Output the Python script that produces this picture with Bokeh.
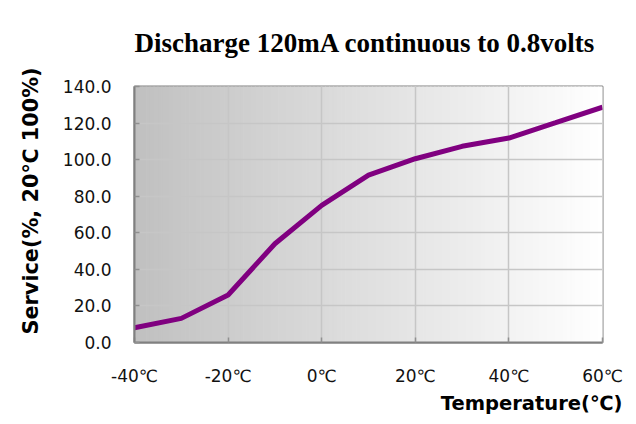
import numpy as np
from bokeh.plotting import figure
from bokeh.models import Range1d, FixedTicker, Title
from bokeh.embed import file_html
from bokeh.resources import INLINE

# ---- data ----
temps = [-40, -30, -20, -10, 0, 10, 20, 30, 40, 50, 60]
service = [8.1, 13.2, 26.0, 54.0, 75.0, 91.5, 100.5, 107.3, 111.8, 120.2, 128.7]

x_ticks = [-40, -20, 0, 20, 40, 60]
x_tick_labels = ["-40℃", "-20℃", "0℃", "20℃", "40℃", "60℃"]
y_ticks = [0, 20, 40, 60, 80, 100, 120, 140]
y_tick_labels = ["0.0", "20.0", "40.0", "60.0", "80.0", "100.0", "120.0", "140.0"]

title_text = "Discharge 120mA continuous to 0.8volts"
x_label = "Temperature(℃)"
y_label = "Service(%, 20℃ 100%)"

X0, X1, Y0, Y1 = -40, 60, 0, 140

p = figure(width=628, height=416, output_backend="svg", toolbar_location=None,
           x_range=Range1d(X0, X1), y_range=Range1d(Y0, Y1),
           min_border_left=133, min_border_right=26,
           min_border_top=86, min_border_bottom=74)
p.background_fill_color = "white"
p.border_fill_color = "white"
p.outline_line_color = "#808080"
p.outline_line_width = 2

# gradient background (dark gray left -> white right)
n = 120
edges = np.linspace(X0, X1, n + 1)
cols = []
for i in range(n):
    t = (i + 0.5) / n
    v = int(round(192 + (255 - 192) * t))
    cols.append("#%02x%02x%02x" % (v, v, v))
p.quad(left=edges[:-1], right=edges[1:], bottom=Y0, top=Y1,
       fill_color=cols, line_color=cols, line_width=1, level="underlay")

# grid
p.xgrid.ticker = FixedTicker(ticks=x_ticks)
p.ygrid.ticker = FixedTicker(ticks=y_ticks)
for g in (p.xgrid, p.ygrid):
    g.grid_line_color = "#c6c6c6"
    g.grid_line_width = 1.5
    g.level = "underlay"

# line
p.line(temps, service, line_color="#800080", line_width=5)

# axes
p.xaxis.ticker = FixedTicker(ticks=x_ticks)
p.xaxis.major_label_overrides = dict(zip(x_ticks, x_tick_labels))
p.yaxis.ticker = FixedTicker(ticks=y_ticks)
p.yaxis.major_label_overrides = dict(zip(y_ticks, y_tick_labels))
for ax in (p.xaxis, p.yaxis):
    ax.axis_line_color = "#808080"
    ax.axis_line_width = 2
    ax.major_tick_in = 5
    ax.major_tick_out = 0
    ax.major_tick_line_color = "#909090"
    ax.major_tick_line_width = 1.5
    ax.minor_tick_line_color = None
    ax.major_label_text_font = "DejaVu Sans"
    ax.major_label_text_font_size = "17px"
    ax.major_label_text_color = "#111111"
p.yaxis.major_label_standoff = 23
p.xaxis.major_label_standoff = 23

# texts
# invisible spacer between the frame and the title (pushes the title upward)
p.add_layout(Title(text="\u00a0", standoff=0, text_font_size="24px",
                   text_color="white"), "above")
p.add_layout(Title(text=title_text, align="left", offset=0, standoff=0,
                   text_font="Liberation Serif", text_font_style="bold",
                   text_font_size="27px", text_color="black"), "above")
p.add_layout(Title(text=x_label, align="right", offset=-20, standoff=2,
                   text_font="DejaVu Sans", text_font_style="bold",
                   text_font_size="19.5px", text_color="black"), "below")
p.add_layout(Title(text=y_label, align="left", offset=8, standoff=33,
                   text_font="DejaVu Sans", text_font_style="bold",
                   text_font_size="20.8px", text_color="black"), "left")

open("out.html", "w").write(file_html(p, INLINE))
